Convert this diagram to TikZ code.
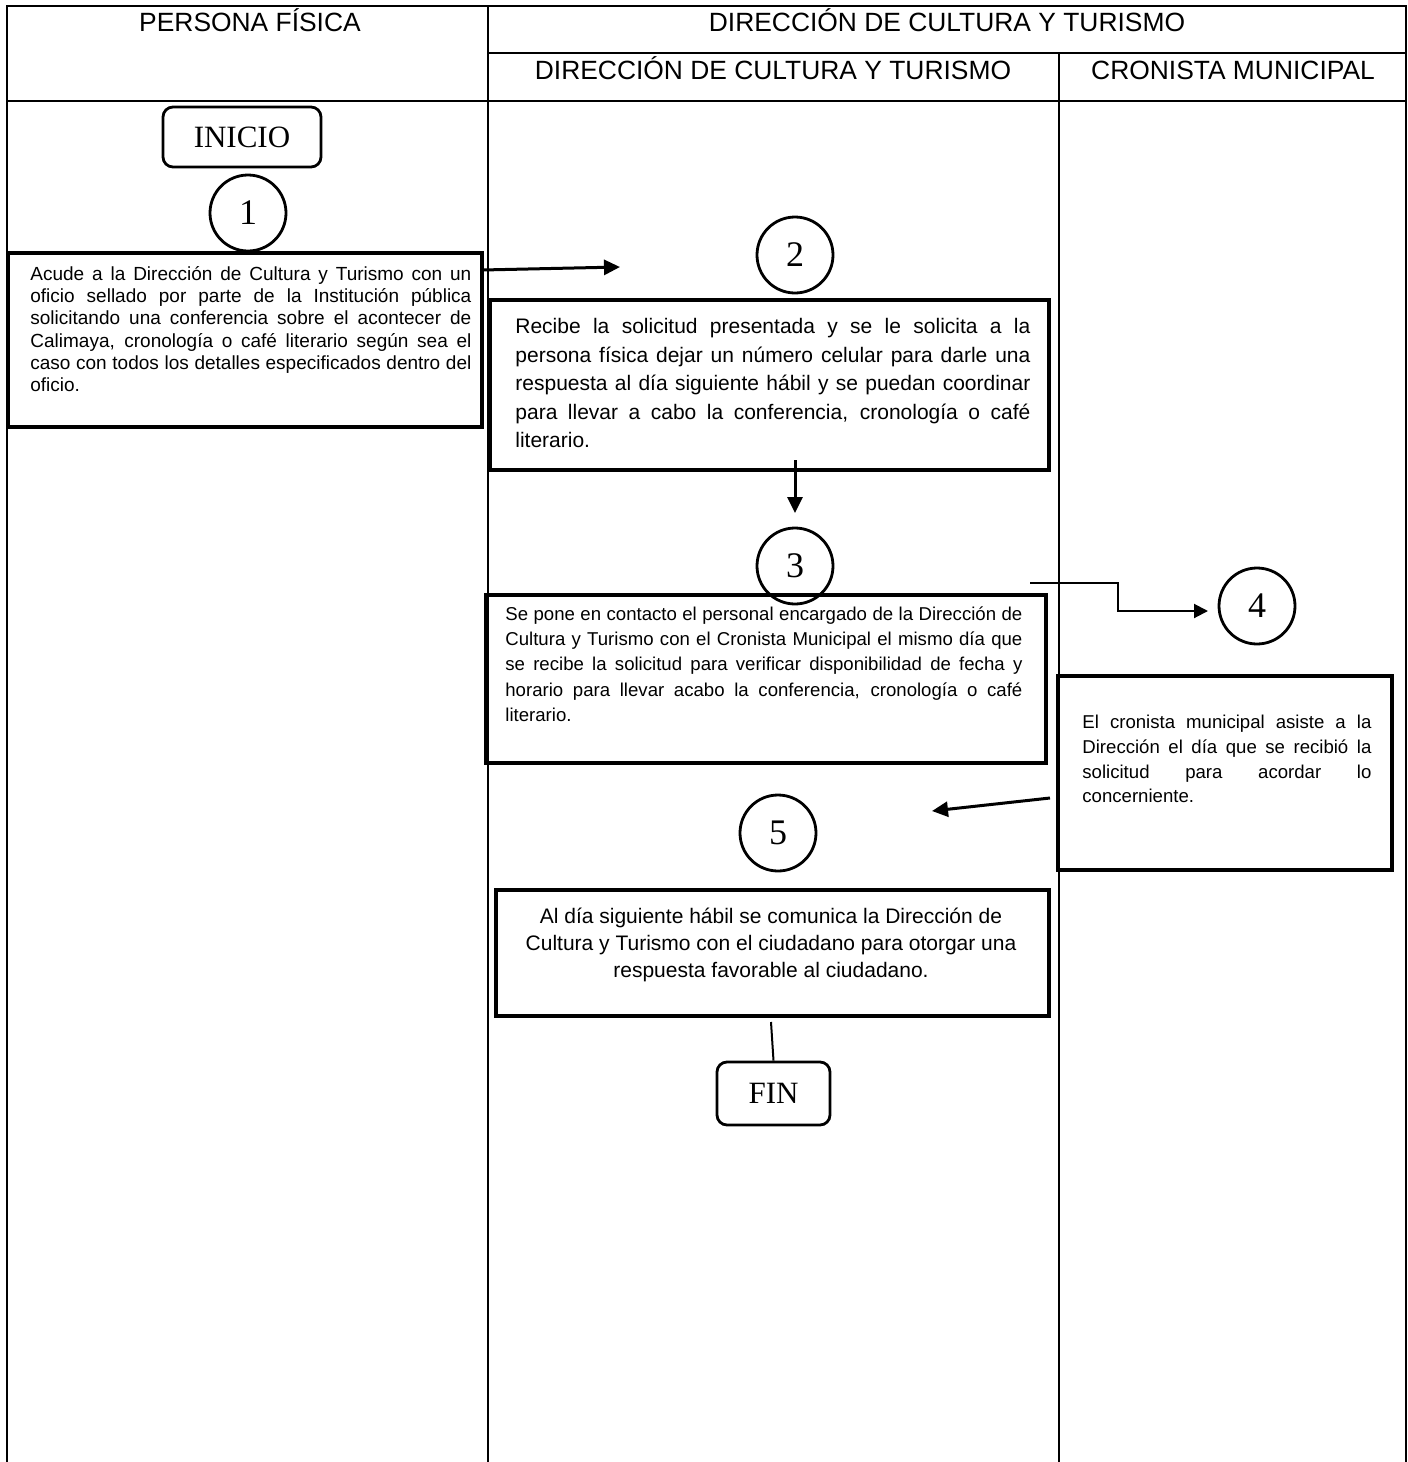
\documentclass[tikz,border=0pt]{standalone}
\usepackage{fontspec}
\setmainfont{Liberation Sans}
\newfontfamily\tnr{Liberation Serif}
\usetikzlibrary{arrows.meta}

\begin{document}
\begin{tikzpicture}[x=0.5pt,y=-0.5pt,
  rule/.style={line width=0.75pt},
  actbox/.style={draw,line width=1.6pt,inner sep=0pt},
  txt/.style={anchor=north west,inner sep=0pt,align=justify},
  circ/.style={draw,circle,line width=1.4pt,minimum size=38pt,inner sep=0pt,font=\tnr\fontsize{18}{18}\selectfont},
  term/.style={draw,rounded corners=5pt,line width=1.4pt,inner sep=0pt,font=\tnr\fontsize{15.5}{16}\selectfont},
  hdr/.style={anchor=base,inner sep=0pt,font=\fontsize{13.2}{15}\selectfont},
  flow/.style={-{Triangle[length=8pt,width=7.5pt]},line width=1.5pt},
  flowthin/.style={-{Triangle[length=7pt,width=7pt]},line width=1pt}]
\useasboundingbox (0,0) rectangle (1408,1462);

% table
\draw[rule] (7,1462) -- (7,6) -- (1406,6) -- (1406,1462);
\draw[rule] (488,6) -- (488,1462);
\draw[rule] (488,53) -- (1406,53);
\draw[rule] (7,101) -- (1406,101);
\draw[rule] (1059,53) -- (1059,1462);

\node[hdr] (hpf) at (250,31) {PERSONA FÍSICA};
\node[hdr] (hdct) at (947,31) {DIRECCIÓN DE CULTURA Y TURISMO};
\node[hdr] (hdir) at (773,79) {DIRECCIÓN DE CULTURA Y TURISMO};
\node[hdr] (hcro) at (1233,79) {CRONISTA MUNICIPAL};

% terminals and numbers
\node[term, minimum width=79pt, minimum height=30pt] (ini) at (242,137) {INICIO};
\node[term, minimum width=56.5pt, minimum height=31.5pt] (fin) at (773.5,1093.5) {FIN};
\node[circ] (c1) at (248,213) {1};
\node[circ] (c2) at (795,255) {2};
\node[circ] (c3) at (795,566) {3};
\node[circ] (c4) at (1257,606) {4};
\node[circ] (c5) at (778,833) {5};

% activity boxes
\node[actbox, minimum width=237pt, minimum height=87pt] (b1) at (245,340) {};
\node[actbox, minimum width=279.5pt, minimum height=85pt] (b2) at (769.5,385) {};
\node[actbox, minimum width=280pt, minimum height=84pt] (b3) at (766,679) {};
\node[actbox, minimum width=167pt, minimum height=97pt] (b4) at (1225,773) {};
\node[actbox, minimum width=276.5pt, minimum height=63pt] (b5) at (772.5,953) {};

\node[txt, text width=220.5pt, font=\fontsize{9.5}{11.15}\selectfont] (t1) at (30,266) {Acude a la Dirección de Cultura y Turismo con un\linebreak
oficio sellado por parte de la Institución pública\linebreak
solicitando una conferencia sobre el acontecer de\linebreak
Calimaya, cronología o café literario según sea el\linebreak
caso con todos los detalles especificados dentro del\linebreak
oficio.};
\node[txt, text width=257.5pt, font=\fontsize{10.5}{14.25}\selectfont] (t2) at (515,318) {Recibe la solicitud presentada y se le solicita a la\linebreak
persona física dejar un número celular para darle una\linebreak
respuesta al día siguiente hábil y se puedan coordinar\linebreak
para llevar a cabo la conferencia, cronología o café\linebreak
literario.};
\node[txt, text width=258.5pt, font=\fontsize{9.3}{12.65}\selectfont] (t3) at (505,606) {Se pone en contacto el personal encargado de la Dirección de\linebreak
Cultura y Turismo con el Cronista Municipal el mismo día que\linebreak
se recibe la solicitud para verificar disponibilidad de fecha y\linebreak
horario para llevar acabo la conferencia, cronología o café\linebreak
literario.};
\node[txt, text width=144.5pt, font=\fontsize{9.3}{12.3}\selectfont] (t4) at (1082,715) {El cronista municipal asiste a la\linebreak
Dirección el día que se recibió la\linebreak
solicitud para acordar lo\linebreak
concerniente.};
\node[anchor=north, inner sep=0pt, align=center, font=\fontsize{10.5}{13.5}\selectfont] (t5) at (771,908) {Al día siguiente hábil se comunica la Dirección de\\
Cultura y Turismo con el ciudadano para otorgar una\\
respuesta favorable al ciudadano.};

% connectors
\coordinate (a1s) at (482,270);
\coordinate (a1e) at (620,267);
\coordinate (a2s) at (795,460);
\coordinate (a2e) at (795,513);
\coordinate (a3s) at (1030,583);
\coordinate (a3k) at (1118,611);
\coordinate (a3e) at (1208,611);
\coordinate (a4s) at (1050,798);
\coordinate (a4e) at (932,811);
\coordinate (a5s) at (771,1022);

\path[]
(a1s) edge[flow] (a1e)
(a2s) edge[flow] (a2e)
(a4s) edge[flow] (a4e)
(a5s) edge[line width=1pt] (fin.north)
;
\draw[flowthin] (a3s) -| (a3k) -- (a3e);
\end{tikzpicture}
\end{document}
